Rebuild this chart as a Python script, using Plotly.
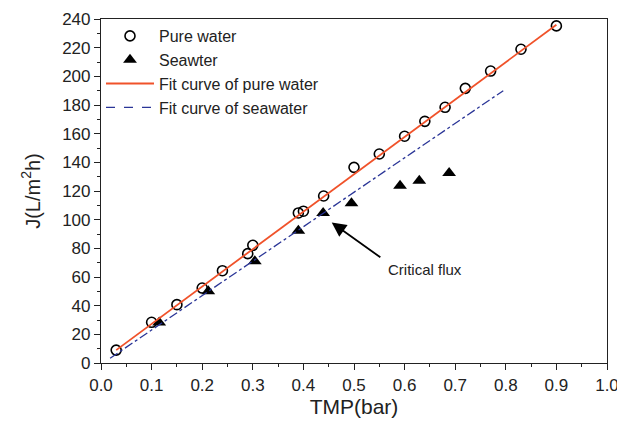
import plotly.graph_objects as go

# Data
pure_tmp = [0.03, 0.10, 0.15, 0.20, 0.24, 0.29, 0.30, 0.39, 0.40, 0.44, 0.50, 0.55,
            0.60, 0.64, 0.68, 0.72, 0.77, 0.83, 0.90]
pure_j = [9, 28.4, 40.7, 52.3, 64.4, 76.3, 82.1, 104.7, 105.9, 116.5, 136.5, 145.8,
          158.2, 168.6, 178.4, 191.6, 203.7, 218.9, 235.2]

sea_tmp = [0.115, 0.212, 0.304, 0.390, 0.439, 0.495, 0.591, 0.629, 0.688]
sea_j = [28.3, 50.0, 71.0, 92.3, 104.7, 111.5, 123.7, 127.2, 132.5]

fit_pure_tmp = [0.03, 0.90]
fit_pure_j = [9.0, 236.0]

fit_sea_tmp = [0.018, 0.795]
fit_sea_j = [3.3, 190.0]

x_ticks = [round(i * 0.1, 1) for i in range(11)]
y_ticks = list(range(0, 241, 20))

RED = "#f0522a"
BLUE = "#2a3597"
INK = "#222222"
FONT = "Liberation Sans, Arial, sans-serif"

fig = go.Figure()
fig.add_trace(go.Scatter(x=pure_tmp, y=pure_j, mode="markers", name="Pure water",
                         marker=dict(symbol="circle-open", size=10, color="black",
                                     line=dict(width=1.6, color="black"))))
fig.add_trace(go.Scatter(x=sea_tmp, y=sea_j, mode="markers", name="Seawter",
                         marker=dict(symbol="triangle-up", size=12, color="black")))
fig.add_trace(go.Scatter(x=fit_pure_tmp, y=fit_pure_j, mode="lines",
                         name="Fit curve of pure water",
                         line=dict(color=RED, width=1.8)))
# seawater fit drawn dash-dot; its legend key is shown dashed as in the reference
fig.add_trace(go.Scatter(x=fit_sea_tmp, y=fit_sea_j, mode="lines",
                         name="Fit curve of seawater", showlegend=False,
                         line=dict(color=BLUE, width=1.3, dash="dashdot")))
fig.add_trace(go.Scatter(x=[None], y=[None], mode="lines",
                         name="Fit curve of seawater",
                         line=dict(color=BLUE, width=1.3, dash="dash")))

# arrow
fig.add_annotation(x=0.456, y=98, ax=0.555, ay=73, axref="x", ayref="y",
                   xref="x", yref="y", text="", showarrow=True,
                   arrowhead=2, arrowsize=1.6, arrowwidth=1.8, arrowcolor="black")
fig.add_annotation(x=0.563, y=65, xref="x", yref="y", text="Critical flux",
                   showarrow=False, xanchor="left", yanchor="middle",
                   font=dict(size=15, color=INK, family=FONT))

axis_common = dict(showline=True, linecolor=INK, linewidth=1.2, mirror=True,
                   ticks="outside", ticklen=6, tickwidth=1.2, tickcolor=INK,
                   showgrid=False, zeroline=False,
                   tickfont=dict(size=17, color=INK, family=FONT))

fig.update_xaxes(range=[0, 1.0], tickvals=x_ticks,
                 ticktext=[f"{v:.1f}" for v in x_ticks],
                 minor=dict(ticks="outside", ticklen=3, tickwidth=1.2,
                            tickcolor=INK, dtick=0.05),
                 title=dict(text="TMP(bar)", font=dict(size=21, color=INK, family=FONT),
                            standoff=5),
                 **axis_common)
fig.update_yaxes(range=[0, 240], tickvals=y_ticks,
                 minor=dict(ticks="outside", ticklen=3, tickwidth=1.2,
                            tickcolor=INK, dtick=10),
                 title=dict(text="J(L/m<sup>2</sup>h)",
                            font=dict(size=20, color=INK, family=FONT), standoff=16),
                 **axis_common)

# The page body adds an 8px margin, so the figure is sized to fit the window.
fig.update_layout(
    width=617, height=417,
    margin=dict(l=93, r=18, t=11, b=62, autoexpand=False),
    paper_bgcolor="white", plot_bgcolor="white",
    font=dict(family=FONT, color=INK),
    legend=dict(x=0.0, y=1.0, xanchor="left", yanchor="top",
                bgcolor="rgba(0,0,0,0)", borderwidth=0,
                font=dict(size=16, color=INK, family=FONT),
                tracegroupgap=0, itemwidth=48),
    showlegend=True,
)

fig.write_html("out.html")
